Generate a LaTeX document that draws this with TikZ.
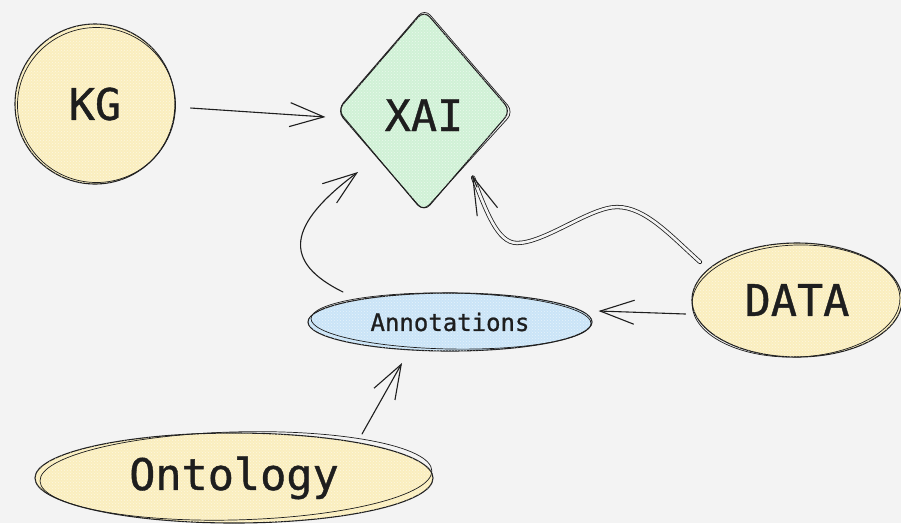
\documentclass[tikz,border=0pt]{standalone}
\usepackage{fontspec}
\setmonofont[FakeBold=0.9]{DejaVu Sans Mono}
\usetikzlibrary{shapes.geometric,arrows.meta,patterns}

\definecolor{bg}{HTML}{F3F3F3}
\definecolor{ink}{HTML}{1E1E1E}
\definecolor{sand}{HTML}{FAEEBE}
\definecolor{mint}{HTML}{D0F1D6}
\definecolor{sky}{HTML}{CAE4F7}

\tikzset{
  outline/.style={draw=ink, line width=1.1pt},
  retrace/.style={draw=ink, line width=0.7pt},
  speckle/.style={postaction={pattern=crosshatch dots, pattern color=white, fill opacity=0.55}},
  blob/.style={ellipse, outline, inner sep=0pt, speckle, text=ink},
  big/.style={font=\ttfamily\fontsize{43.5}{43.5}\selectfont},
  link/.style={draw=ink, line width=1.1pt, line cap=round},
  barb/.style={-{Straight Barb[length=34pt, width=24pt, line width=1.1pt]}},
}

\begin{document}
\begin{tikzpicture}[x=1pt, y=-1pt]
  \fill[bg] (0,0) rectangle (901,523);
  \useasboundingbox (0,0) rectangle (901,523);

  % shapes
  \node[circle, outline, fill=sand, speckle, minimum size=160pt, inner sep=0pt,
        text=ink, big] (kg) at (95,104) {KG};
  \node[diamond, outline, fill=mint, speckle, minimum width=174pt, minimum height=202pt,
        inner sep=0pt, rounded corners=9pt, text=ink, big, text height=40pt, text depth=0pt]
        (xai) at (424,111) {XAI};
  \node[blob, fill=sky, minimum width=284pt, minimum height=58pt,
        font=\ttfamily\fontsize{24}{24}\selectfont] (ann) at (450,322) {Annotations};
  \node[blob, fill=sand, minimum width=210pt, minimum height=114pt, big] (data) at (797,300) {DATA};
  \node[blob, fill=sand, minimum width=398pt, minimum height=90pt, big] (onto) at (234,478) {Ontology};

  % second pencil strokes for the hand-drawn look
  \draw[retrace] ([shift={(1.5,1)}]kg.center) ellipse [x radius=79, y radius=77.5];
  \draw[retrace, rounded corners=9pt]
    ([shift={(0.5,-1)}]xai.north) -- ([shift={(2,1)}]xai.east)
    -- ([shift={(-1,-1)}]xai.south) -- ([shift={(1,-1.5)}]xai.west) -- cycle;
  \draw[retrace, rotate around={-1:(ann.center)}] ([shift={(1,-1)}]ann.center) ellipse [x radius=140, y radius=28];
  \draw[retrace, rotate around={2:(data.center)}] ([shift={(-1,1)}]data.center) ellipse [x radius=104, y radius=56];
  \draw[retrace, rotate around={1.5:(onto.center)}] ([shift={(2,-2)}]onto.center) ellipse [x radius=196, y radius=44];

  % connectors
  \draw[link, barb] ([shift={(15,4)}]kg.east) -- ([shift={(-11,6)}]xai.west);
  \draw[link, barb] ([shift={(-6,14)}]data.west) -- ([shift={(6,-11)}]ann.east);
  \draw[link, barb] ([shift={(128,-44)}]onto.center) -- ([shift={(-48,41)}]ann.center);
  \draw[link, barb] ([shift={(-107,-30)}]ann.center)
    .. controls (282,262) and (287,225) .. ([shift={(-66,61)}]xai.center);

  % double-stroked connector from DATA into XAI
  \coordinate (dtip) at ([shift={(48,64)}]xai.center);
  \draw[draw=ink, line width=0.8pt, double=bg, double distance=2.6pt, line cap=round]
    ([shift={(-97,-38)}]data.center)
    .. controls (670,235) and (645,207) .. (617,207)
    .. controls (590,207) and (545,243) .. (517,243)
    .. controls (497,243) and (486,210) .. ([shift={(1,2.5)}]dtip);
  \draw[link, -{Straight Barb[length=38pt, width=22pt, line width=1.1pt]}]
    ([shift={(5,12)}]dtip) -- (dtip);
\end{tikzpicture}
\end{document}
